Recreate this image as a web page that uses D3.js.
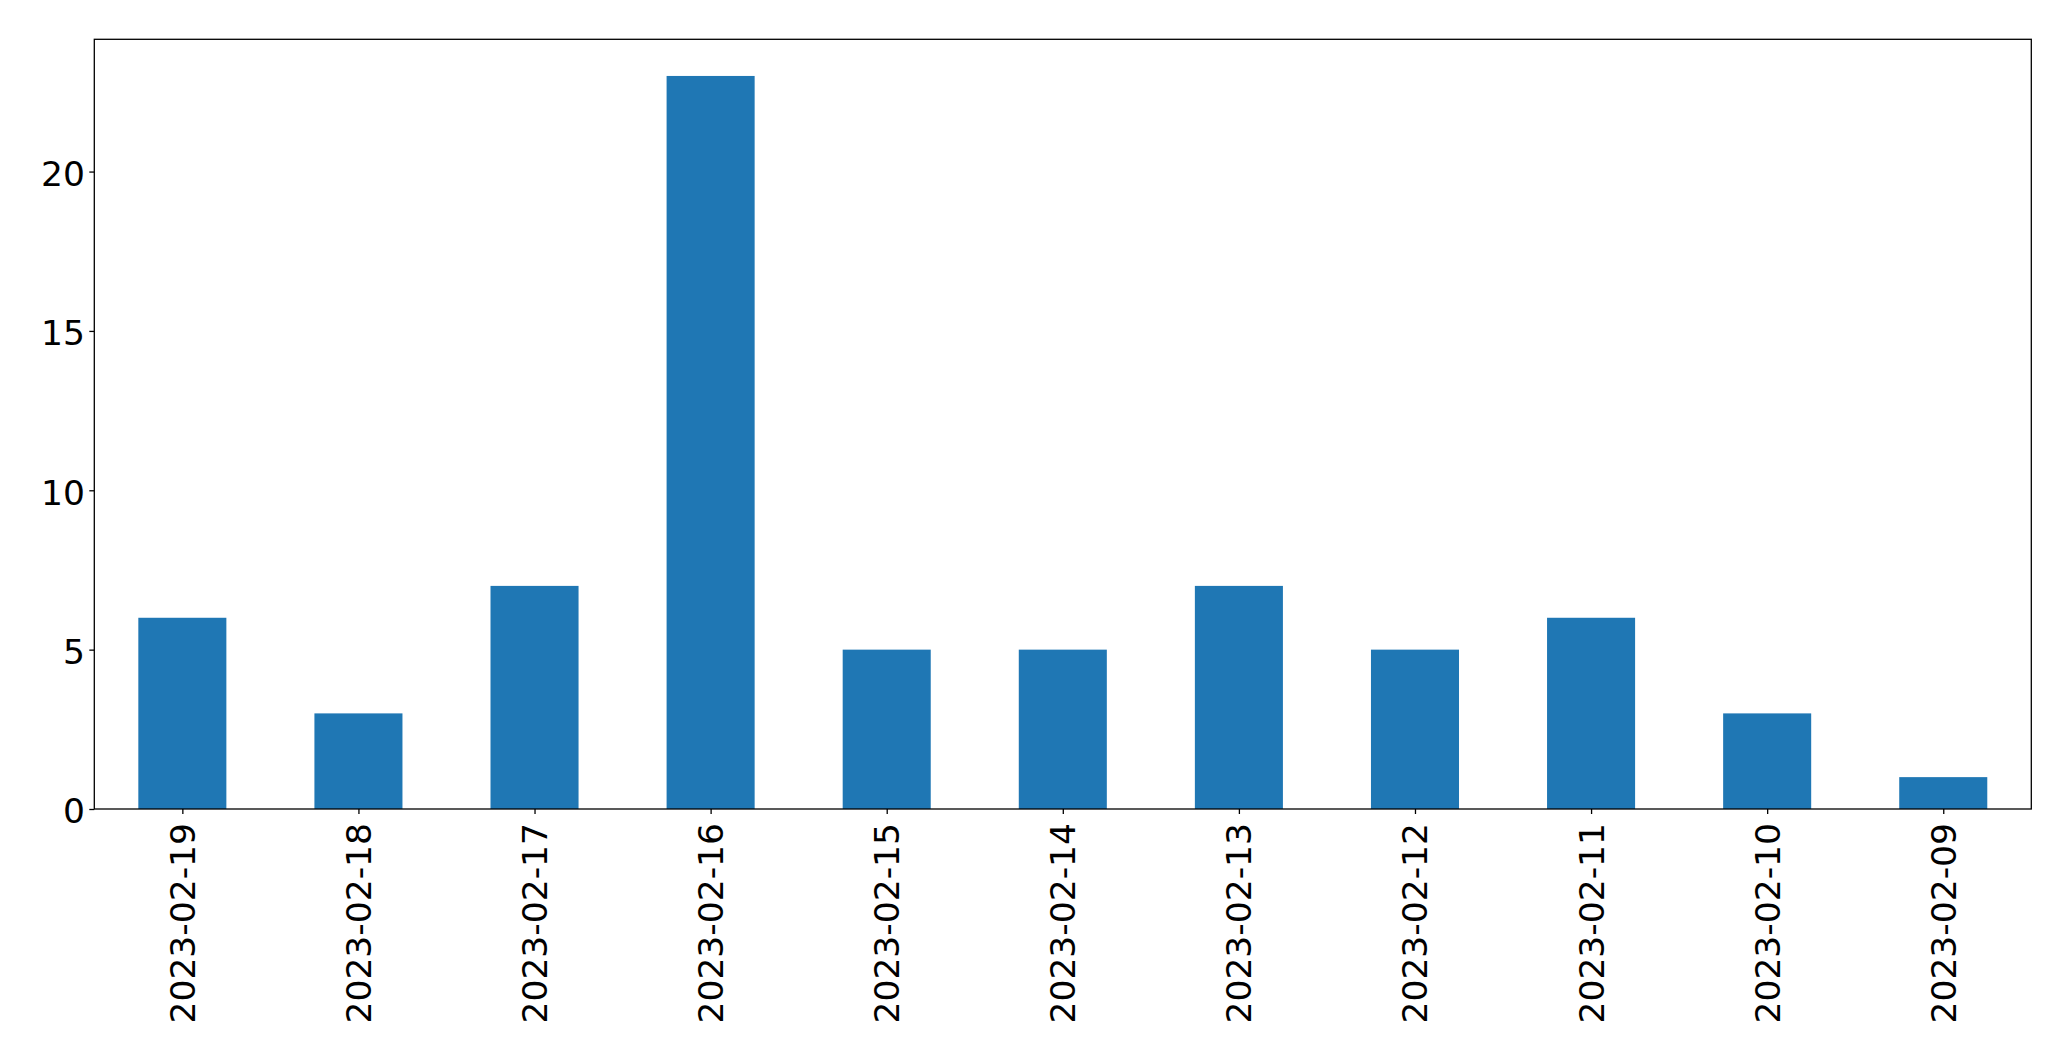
<!DOCTYPE html>
<html>
<head>
<meta charset="utf-8">
<script src="https://cdn.jsdelivr.net/npm/d3@7"></script>
<style>
  html, body { margin: 0; padding: 0; background: #fff; }
  svg { display: block; }
</style>
</head>
<body>
<svg id="chart" width="2071" height="1061"></svg>
<script>
const categories = ["2023-02-19","2023-02-18","2023-02-17","2023-02-16","2023-02-15","2023-02-14","2023-02-13","2023-02-12","2023-02-11","2023-02-10","2023-02-09"];
const values = [6, 3, 7, 23, 5, 5, 7, 5, 6, 3, 1];
const yTicks = [0, 5, 10, 15, 20];

const svg = d3.select("#chart");
const margin = {left: 94.3, top: 39.3, right: 2071 - 2031.3, bottom: 1061 - 809};
const W = 2071, H = 1061;
const x0 = margin.left, x1 = W - margin.right, y0 = H - margin.bottom, y1 = margin.top;
const fontFamily = "'DejaVu Sans', sans-serif";
const fontSize = 34.5;

const n = categories.length;
const x = d3.scaleLinear().domain([-0.5, n - 0.5]).range([x0, x1]);
const ymax = d3.max(values) * 1.05;
const y = d3.scaleLinear().domain([0, ymax]).range([y0, y1]);
const barW = 0.5;

svg.append("g").selectAll("rect").data(values).enter().append("rect")
  .attr("x", (d, i) => x(i - barW / 2))
  .attr("width", (d, i) => x(i + barW / 2) - x(i - barW / 2))
  .attr("y", d => y(d))
  .attr("height", d => y(0) - y(d))
  .attr("fill", "#1f77b4");

// frame
svg.append("rect")
  .attr("x", x0).attr("y", y1)
  .attr("width", x1 - x0).attr("height", y0 - y1)
  .attr("fill", "none").attr("stroke", "#000").attr("stroke-width", 1.3);

// y axis
const yAxis = d3.axisLeft(y).tickValues(yTicks).tickSize(5).tickPadding(4.3).tickFormat(d3.format("d"));
const gy = svg.append("g").attr("transform", `translate(${x0},0)`).call(yAxis);
gy.select(".domain").remove();
gy.selectAll("line").attr("stroke", "#000").attr("stroke-width", 1.3);
gy.selectAll("text").attr("font-family", fontFamily).attr("font-size", fontSize).attr("fill", "#000")
  .attr("dy", "0.405em");

// x axis
const xAxis = d3.axisBottom(x).tickValues(d3.range(n)).tickSize(5).tickFormat(i => categories[i]);
const gx = svg.append("g").attr("transform", `translate(0,${y0})`).call(xAxis);
gx.select(".domain").remove();
gx.selectAll("line").attr("stroke", "#000").attr("stroke-width", 1.3);
gx.selectAll("text")
  .attr("font-family", fontFamily).attr("font-size", fontSize).attr("fill", "#000")
  .attr("text-anchor", "end")
  .attr("dy", null)
  .attr("dominant-baseline", "central")
  .attr("y", 0)
  .attr("transform", "translate(0,14) rotate(-90)");
</script>
</body>
</html>
